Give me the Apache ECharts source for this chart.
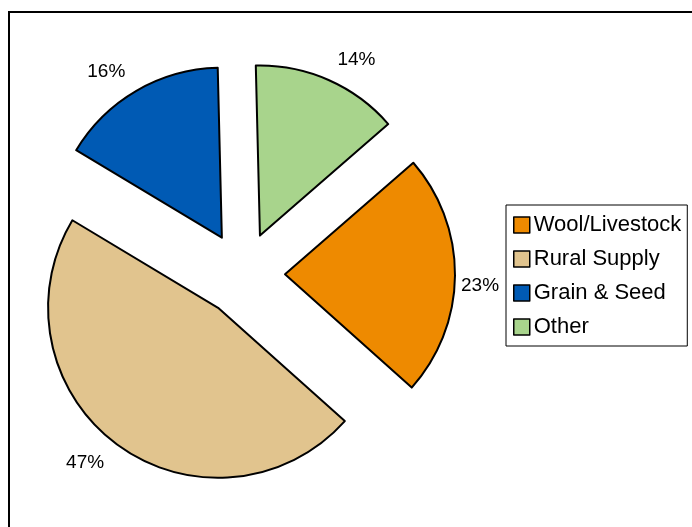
<!DOCTYPE html>
<html>
<head>
<meta charset="utf-8">
<script src="https://cdn.jsdelivr.net/npm/echarts@6/dist/echarts.min.js"></script>
<style>
  html, body { margin: 0; padding: 0; background: #fff; }
  #chart { width: 692px; height: 527px; }
</style>
</head>
<body>
<div id="chart"></div>
<script>
// Share of business by segment (percent)
const categories = ['Wool/Livestock', 'Rural Supply', 'Grain & Seed', 'Other'];
const shares = [23, 47, 16, 14];
const sliceColors = ['#EE8A00', '#E1C48E', '#005AB4', '#A8D48C'];

const chart = echarts.init(document.getElementById('chart'), null, { renderer: 'canvas' });

const fontFamily = '"Liberation Sans", Arial, sans-serif';

const data = categories.map((name, i) => {
  const item = {
    name: name,
    value: shares[i],
    selected: true,
    itemStyle: { color: sliceColors[i] }
  };
  if (name === 'Wool/Livestock') {
    // right-hand label sits close to the arc and a little below the bisector
    item.labelLine = { show: false, length: 6, length2: 0 };
    item.label = { formatter: '\n{c}%', lineHeight: 20 };
  }
  return item;
});

chart.setOption({
  animation: false,
  backgroundColor: '#fff',
  graphic: [{
    type: 'rect',
    silent: true,
    shape: { x: 9, y: 12, width: 720, height: 560 },
    style: { fill: 'none', stroke: '#000', lineWidth: 2 }
  }],
  legend: {
    orient: 'vertical',
    left: 506,
    top: 205,
    padding: [9, 6, 8, 7],
    borderColor: '#000',
    borderWidth: 1,
    itemWidth: 16,
    itemHeight: 16,
    itemGap: 12,
    icon: 'rect',
    selectedMode: false,
    itemStyle: { borderColor: '#000', borderWidth: 1.5 },
    textStyle: { fontFamily: fontFamily, fontSize: 22, lineHeight: 22, color: '#000', padding: [0, 0, 0, -1] },
    data: categories
  },
  series: [{
    type: 'pie',
    center: [243, 274],
    radius: 170,
    startAngle: 41,
    clockwise: true,
    selectedMode: 'multiple',
    selectedOffset: 42,
    avoidLabelOverlap: false,
    emphasis: { scale: false },
    itemStyle: { borderColor: '#000', borderWidth: 2 },
    select: { itemStyle: { borderColor: '#000', borderWidth: 2 } },
    label: {
      show: true,
      position: 'outside',
      formatter: '{c}%',
      fontFamily: fontFamily,
      fontSize: 19,
      color: '#000',
      distanceToLabelLine: 0
    },
    labelLine: { show: false, length: 22, length2: 0 },
    data: data
  }]
});
</script>
</body>
</html>
